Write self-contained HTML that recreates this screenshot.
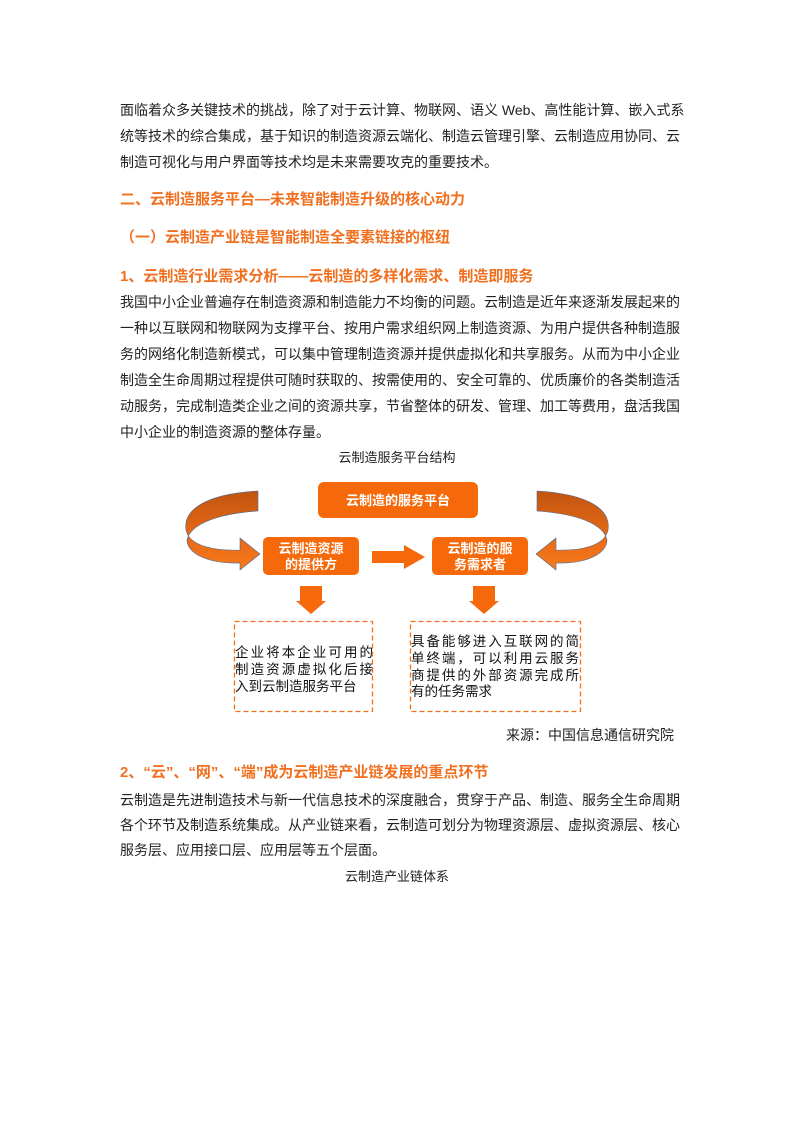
<!DOCTYPE html>
<html><head><meta charset="utf-8">
<style>
body{margin:0;background:#fff;}
#p{position:relative;width:794px;height:1123px;overflow:hidden;font-family:"Liberation Sans","Noto Sans CJK SC",sans-serif;color:#222;}
.l{position:absolute;left:120px;width:554px;height:20px;line-height:20px;font-size:14px;white-space:nowrap;}
.j{text-align:justify;text-align-last:justify;}
.h{color:#f07020;font-weight:bold;font-size:15px;}
.c{text-align:center;left:0;width:794px;}
</style></head><body><div id="p">
<div class="l j" style="top:100px">面临着众多关键技术的挑战，除了对于云计算、物联网、语义 Web、高性能计算、嵌入式系</div>
<div class="l j" style="top:126px">统等技术的综合集成，基于知识的制造资源云端化、制造云管理引擎、云制造应用协同、云</div>
<div class="l" style="top:152px">制造可视化与用户界面等技术均是未来需要攻克的重要技术。</div>
<div class="l h" style="top:190px">二、云制造服务平台—未来智能制造升级的核心动力</div>
<div class="l h" style="top:228px">（一）云制造产业链是智能制造全要素链接的枢纽</div>
<div class="l h" style="top:267px">1、云制造行业需求分析——云制造的多样化需求、制造即服务</div>
<div class="l j" style="top:292px">我国中小企业普遍存在制造资源和制造能力不均衡的问题。云制造是近年来逐渐发展起来的</div>
<div class="l j" style="top:318px">一种以互联网和物联网为支撑平台、按用户需求组织网上制造资源、为用户提供各种制造服</div>
<div class="l j" style="top:344px">务的网络化制造新模式，可以集中管理制造资源并提供虚拟化和共享服务。从而为中小企业</div>
<div class="l j" style="top:370px">制造全生命周期过程提供可随时获取的、按需使用的、安全可靠的、优质廉价的各类制造活</div>
<div class="l j" style="top:396px">动服务，完成制造类企业之间的资源共享，节省整体的研发、管理、加工等费用，盘活我国</div>
<div class="l" style="top:422px">中小企业的制造资源的整体存量。</div>
<div class="l c" style="top:448px;font-size:13px">云制造服务平台结构</div>

<svg style="position:absolute;left:0;top:0" width="794" height="1123">
<defs>
<linearGradient id="gl" x1="0" y1="0" x2="0" y2="1"><stop offset="0" stop-color="#c05510"/><stop offset="0.45" stop-color="#e06514"/><stop offset="1" stop-color="#f87a1c"/></linearGradient>
</defs>
<path d="M258,491 C205,494 183,510 186,530 C189,546 215,551 240,550 L240,538 L260,554 L240,570 L240,563 C205,564 187,552 187,540 C190,525 215,514 258,511 Z" fill="url(#gl)" stroke="#4a6a9a" stroke-width="0.6"/>
<path d="M537,491 C590,494 611,510 608,530 C605,546 580,551 556,550 L556,538 L536,554 L556,570 L556,563 C590,564 607,552 607,540 C604,525 580,514 537,511 Z" fill="url(#gl)" stroke="#4a6a9a" stroke-width="0.6"/>
<rect x="318" y="482" width="160" height="36" rx="6" fill="#f5690a"/>
<rect x="263" y="537" width="96" height="38" rx="5" fill="#f5690a"/>
<rect x="432" y="537" width="96" height="38" rx="5" fill="#f5690a"/>
<text x="398" y="505" font-size="13" font-weight="bold" fill="#fff" text-anchor="middle" font-family="Liberation Sans,Noto Sans CJK SC,sans-serif">云制造的服务平台</text>
<text x="311" y="553" font-size="13" font-weight="bold" fill="#fff" text-anchor="middle" font-family="Liberation Sans,Noto Sans CJK SC,sans-serif">云制造资源</text>
<text x="311" y="569" font-size="13" font-weight="bold" fill="#fff" text-anchor="middle" font-family="Liberation Sans,Noto Sans CJK SC,sans-serif">的提供方</text>
<text x="480" y="553" font-size="13" font-weight="bold" fill="#fff" text-anchor="middle" font-family="Liberation Sans,Noto Sans CJK SC,sans-serif">云制造的服</text>
<text x="480" y="569" font-size="13" font-weight="bold" fill="#fff" text-anchor="middle" font-family="Liberation Sans,Noto Sans CJK SC,sans-serif">务需求者</text>
<polygon points="372,551 404,551 404,545 425,557 404,569 404,563 372,563" fill="#f5690a"/>
<polygon points="300,586 322,586 322,601 326,601 311,614 296,601 300,601" fill="#f5690a"/>
<polygon points="473,586 495,586 495,601 499,601 484,614 469,601 473,601" fill="#f5690a"/>
<rect x="234.5" y="621.5" width="138" height="90" fill="none" stroke="#f07020" stroke-width="1.3" stroke-dasharray="5,3"/>
<rect x="410.5" y="621.5" width="170" height="90" fill="none" stroke="#f07020" stroke-width="1.3" stroke-dasharray="5,3"/>
<g font-size="13.5" fill="#111" font-family="Liberation Sans,Noto Sans CJK SC,sans-serif">
<text x="235" y="657" textLength="138">企业将本企业可用的</text>
<text x="235" y="674" textLength="138">制造资源虚拟化后接</text>
<text x="235" y="691">入到云制造服务平台</text>
<text x="411" y="646" textLength="168">具备能够进入互联网的简</text>
<text x="411" y="663" textLength="168">单终端，可以利用云服务</text>
<text x="411" y="680" textLength="168">商提供的外部资源完成所</text>
<text x="411" y="696">有的任务需求</text>
</g>
</svg>

<div class="l" style="top:725px;text-align:right">来源：中国信息通信研究院</div>
<div class="l h" style="top:763px">2、“云”、“网”、“端”成为云制造产业链发展的重点环节</div>
<div class="l j" style="top:790px">云制造是先进制造技术与新一代信息技术的深度融合，贯穿于产品、制造、服务全生命周期</div>
<div class="l j" style="top:815px">各个环节及制造系统集成。从产业链来看，云制造可划分为物理资源层、虚拟资源层、核心</div>
<div class="l" style="top:840px">服务层、应用接口层、应用层等五个层面。</div>
<div class="l c" style="top:867px;font-size:13px">云制造产业链体系</div>
</div></body></html>
